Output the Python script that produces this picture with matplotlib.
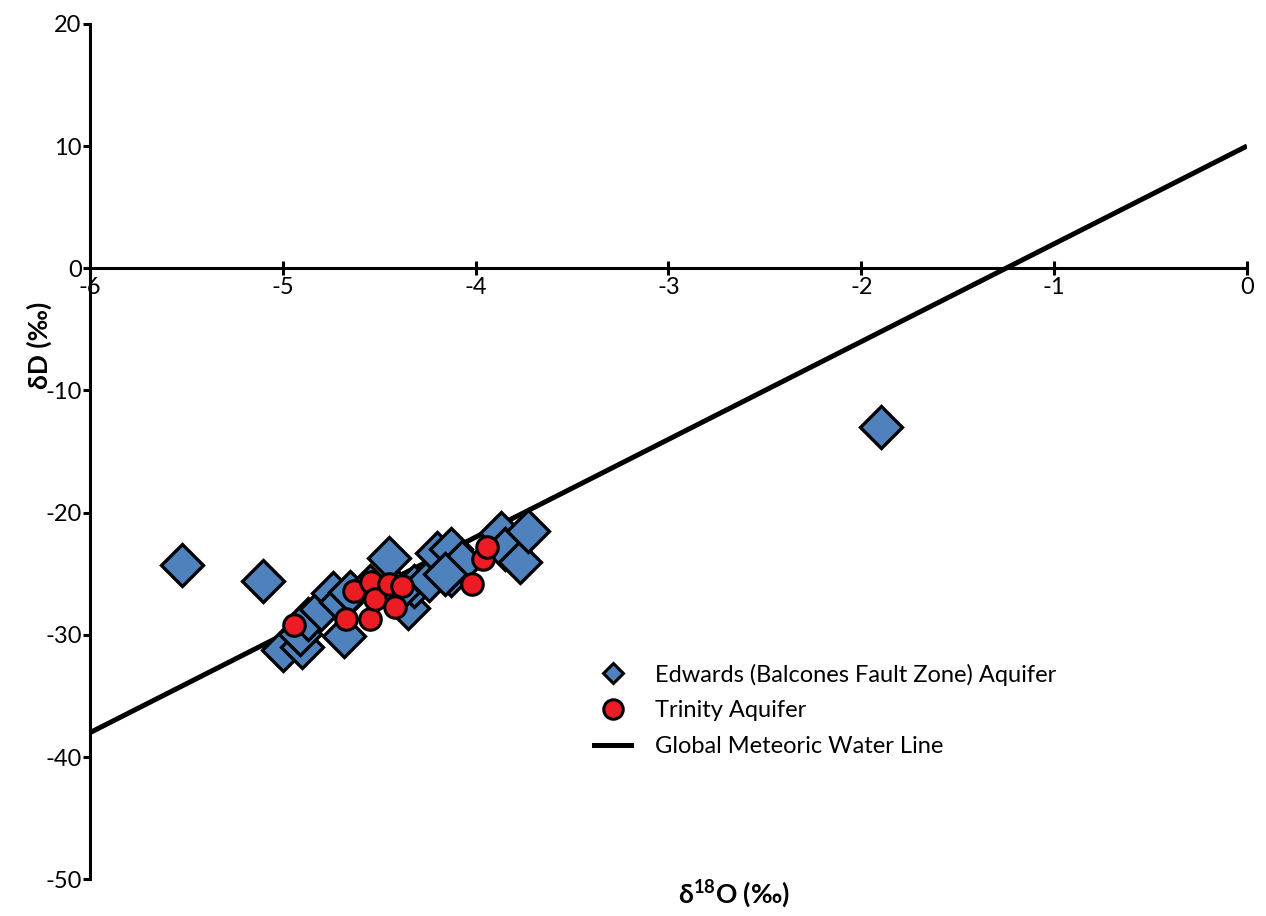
import matplotlib.pyplot as plt
from matplotlib.lines import Line2D

plt.rcParams['font.family'] = ['Lato', 'DejaVu Sans']
plt.rcParams['mathtext.fontset'] = 'custom'
plt.rcParams['mathtext.bf'] = 'Lato:bold'
plt.rcParams['mathtext.rm'] = 'Lato'
plt.rcParams['axes.unicode_minus'] = False

# Edwards (Balcones Fault Zone) Aquifer samples
edwards_o18 = [-5.52, -5.10, -1.90, -5.00, -4.90, -4.91, -4.87, -4.80, -4.74, -4.68,
               -4.70, -4.65, -4.45, -4.35, -4.32, -4.24, -4.20, -4.13, -4.13, -4.07,
               -3.87, -3.85, -3.77, -3.73, -4.55, -4.40, -4.16]
edwards_dD = [-24.3, -25.6, -13.0, -31.2, -31.0, -29.9, -28.7, -27.9, -26.6, -30.1,
              -27.3, -26.5, -23.7, -27.8, -26.0, -25.5, -23.3, -23.0, -25.1, -24.0,
              -21.7, -23.0, -24.0, -21.5, -26.0, -26.5, -25.0]

# Trinity Aquifer samples
trinity_o18 = [-4.94, -4.67, -4.63, -4.55, -4.54, -4.52, -4.45, -4.42, -4.38,
               -4.02, -3.96, -3.94]
trinity_dD = [-29.2, -28.7, -26.4, -28.7, -25.7, -27.1, -25.8, -27.7, -26.0,
              -25.8, -23.8, -22.8]

# Global Meteoric Water Line: dD = 8 * d18O + 10
gmwl_x = [-6, 0]
gmwl_y = [8 * v + 10 for v in gmwl_x]

blue = '#4F81BD'
red = '#EC1C24'

fig = plt.figure(figsize=(12.66, 9.16), dpi=100)
ax = fig.add_axes([0.071, 0.040, 0.914, 0.934])

ax.plot(gmwl_x, gmwl_y, color='black', lw=3.6, solid_capstyle='butt', zorder=3)
ax.plot(edwards_o18, edwards_dD, linestyle='none', marker='D', markersize=21,
        markerfacecolor=blue, markeredgecolor='black', markeredgewidth=2.4, zorder=4)
ax.plot(trinity_o18, trinity_dD, linestyle='none', marker='o', markersize=15.5,
        markerfacecolor=red, markeredgecolor='black', markeredgewidth=2.2, zorder=5)

ax.set_xlim(-6, 0)
ax.set_ylim(-50, 20)
ax.set_xticks([-6, -5, -4, -3, -2, -1, 0])
ax.set_yticks([-50, -40, -30, -20, -10, 0, 10, 20])

ax.spines['top'].set_visible(False)
ax.spines['right'].set_visible(False)
ax.spines['bottom'].set_position(('data', 0))
ax.spines['bottom'].set_linewidth(2.2)
ax.spines['left'].set_linewidth(2.2)
ax.spines['bottom'].set_zorder(2)

ax.tick_params(axis='x', direction='inout', length=10, width=2.2, labelsize=17, pad=1)
ax.tick_params(axis='y', direction='out', length=5, width=2.2, labelsize=17, pad=1)

fig.text(0.58, 0.024, r'δ$^{\mathbf{18}}$O (‰)', fontsize=19, fontweight='bold',
         ha='center', va='center')
fig.text(0.031, 0.623, 'δD (‰)', fontsize=19, fontweight='bold', rotation=90,
         ha='center', va='center')

handles = [
    Line2D([], [], linestyle='none', marker='D', markersize=10, markerfacecolor=blue,
           markeredgecolor='black', markeredgewidth=2.2),
    Line2D([], [], linestyle='none', marker='o', markersize=14, markerfacecolor=red,
           markeredgecolor='black', markeredgewidth=2.2),
    Line2D([], [], color='black', lw=3.6),
]
labels = ['Edwards (Balcones Fault Zone) Aquifer', 'Trinity Aquifer',
          'Global Meteoric Water Line']
ax.legend(handles, labels, loc='upper left', bbox_to_anchor=(0.417, 0.277),
          frameon=False, fontsize=17, handlelength=1.6, labelspacing=0.62,
          handletextpad=1.0)

plt.savefig('out.png', dpi=100)
